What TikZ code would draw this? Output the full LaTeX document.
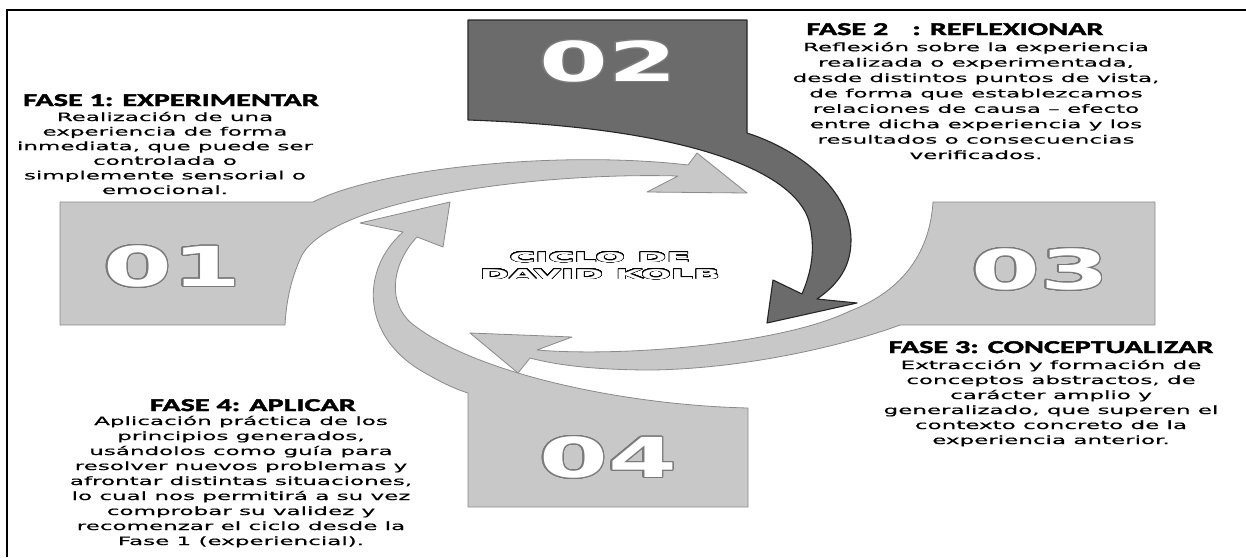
\documentclass[tikz,border=0pt]{standalone}
\usepackage{fontspec}
\usepackage{contour}
\usetikzlibrary{positioning}

\newfontfamily\bodyfont[FakeStretch=2.0, FakeBold=0.4]{DejaVu Sans}
\newfontfamily\headfont[FakeStretch=1.68, BoldFeatures={FakeBold=2.4}]{Carlito}
\newfontfamily\numfont[FakeStretch=1.8]{DejaVu Sans}
\newfontfamily\titlefont[FakeStretch=2.6]{DejaVu Sans}

\definecolor{boxgrey}{HTML}{C8C8C8}
\definecolor{edgegrey}{HTML}{8A8A8A}
\definecolor{darkgrey}{HTML}{6B6B6B}
\definecolor{numedge}{HTML}{7A7A7A}

\contourlength{1.2pt}
\contournumber{32}

\tikzset{
  lightband/.style={fill=boxgrey, draw=edgegrey, line width=0.8pt, line join=round},
  darkband/.style={fill=darkgrey, draw=black!85, line width=1.1pt, line join=round},
  phasehead/.style={font=\headfont\bfseries\fontsize{18}{20}\selectfont, anchor=base, inner sep=0pt},
  phasetext/.style={font=\bodyfont\fontsize{11.5}{15}\selectfont, align=center, anchor=base, inner sep=0pt},
  phasenum/.style={font=\numfont\bfseries\fontsize{55}{55}\selectfont, text=white, inner sep=0pt},
}

\begin{document}
\begin{tikzpicture}[x=1pt,y=-1pt]
  \useasboundingbox (0,0) rectangle (1246,557);
  \fill[white] (0,0) rectangle (1246,557);
  % frame
  \draw[line width=1.5pt] (7,557) -- (7,10) -- (1246,10);

  % 01 -> 02
  \draw[lightband] (60,202) -- (313,202)
    .. controls (380,168) and (560,150) .. (688,165)
    -- (697,153) -- (747,193) -- (647,192) -- (678,176)
    .. controls (540,172) and (335,198) .. (302,255)
    .. controls (290,280) and (286,305) .. (285,325)
    -- (60,325) -- cycle;
  % 03 -> 04
  \draw[lightband] (933,202) -- (1155,202) -- (1155,325) -- (900,325)
    .. controls (860,340) and (760,368) .. (653,370)
    .. controls (600,370) and (560,366) .. (530,358)
    -- (518,373) -- (470,333) -- (572,337) -- (537,350)
    .. controls (620,357) and (780,345) .. (850,311)
    .. controls (905,290) and (930,250) .. (933,202) -- cycle;
  % 04 -> 01
  \draw[lightband] (468,507) -- (748,507) -- (748,408)
    .. controls (620,405) and (470,372) .. (410,322)
    .. controls (385,298) and (395,260) .. (417,237)
    -- (443,247) -- (450,202) -- (360,223) -- (403,232)
    .. controls (360,270) and (362,335) .. (420,370)
    .. controls (440,382) and (455,389) .. (468,393) -- cycle;
  % 02 -> 03
  \draw[darkband] (468,20) -- (747,20) -- (747,133)
    .. controls (800,150) and (851,190) .. (851,240)
    .. controls (851,265) and (840,283) .. (817,299)
    -- (857,303) -- (767,323) -- (773,280) -- (802,294)
    .. controls (812,270) and (815,250) .. (810,225)
    .. controls (800,175) and (700,128) .. (468,120) -- cycle;

  % numbers
  \node[phasenum] (n1) at (172,267) {\contour{numedge}{01}};
  \node[phasenum] (n2) at (608,62) {\contour{numedge}{02}};
  \node[phasenum] (n3) at (1040,270) {\contour{numedge}{03}};
  \node[phasenum] (n4) at (608,458) {\contour{numedge}{04}};

  % centre
  \contourlength{0.7pt}
  \node[font=\titlefont\bfseries\fontsize{13.5}{17}\selectfont, align=center, text=white] (title) at (600,266)
    {\contour{black}{CICLO DE}\\\contour{black}{DAVID KOLB}};

  % phase texts (base = last line)
  \node[phasehead] (h1) at (171,106) {FASE 1: EXPERIMENTAR};
  \node[phasetext, font=\bodyfont\fontsize{11.5}{14.6}\selectfont] (b1) at (165,194)
    {Realización de una\\experiencia de forma\\inmediata, que puede ser\\controlada o\\simplemente sensorial o\\emocional.};

  \node[phasehead] (h2) at (955,35) {FASE 2\hspace{24pt}: REFLEXIONAR};
  \node[phasetext, font=\bodyfont\fontsize{11.5}{15.4}\selectfont] (b2) at (976,159)
    {Reflexión sobre la experiencia\\realizada o experimentada,\\desde distintos puntos de vista,\\de forma que establezcamos\\relaciones de causa – efecto\\entre dicha experiencia y los\\resultados o consecuencias\\verificados.};

  \node[phasehead] (h3) at (1051,353) {FASE 3: CONCEPTUALIZAR};
  \node[phasetext] (b3) at (1051,444)
    {Extracción y formación de\\conceptos abstractos, de\\carácter amplio y\\generalizado, que superen el\\contexto concreto de la\\experiencia anterior.};

  \node[phasehead] (h4) at (253,411) {FASE 4: APLICAR};
  \node[phasetext] (b4) at (241,545)
    {Aplicación práctica de los\\principios generados,\\usándolos como guía para\\resolver nuevos problemas y\\afrontar distintas situaciones,\\lo cual nos permitirá a su vez\\comprobar su validez y\\recomenzar el ciclo desde la\\Fase 1 (experiencial).};
\end{tikzpicture}
\end{document}
